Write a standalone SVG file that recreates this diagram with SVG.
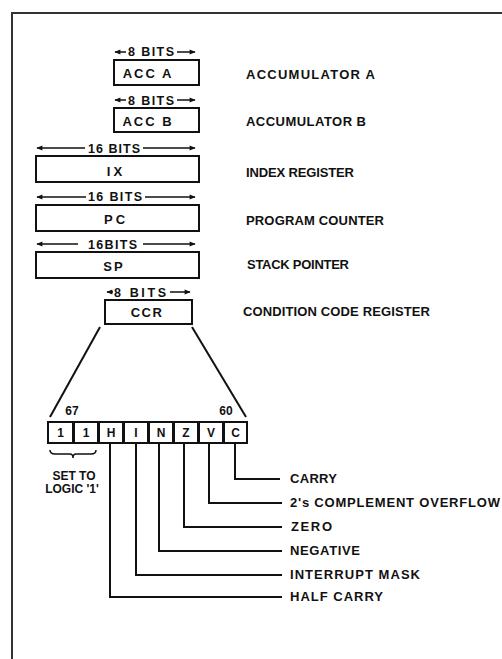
<svg xmlns="http://www.w3.org/2000/svg" width="502" height="659" viewBox="0 0 502 659">
<style>
text{font-family:"Liberation Sans",Arial,sans-serif;font-weight:bold;fill:#111;}
.lbl{font-size:13px;}
.reg{font-size:13px;text-anchor:middle;}
.bits{font-size:12.5px;}
.bit{font-size:12px;text-anchor:middle;}
.box{fill:#fff;stroke:#111;stroke-width:2;}
.ln{fill:none;stroke:#111;stroke-width:2;}
.ar{fill:none;stroke:#111;stroke-width:1.5;}
.frame{fill:none;stroke:#333;stroke-width:2;}
</style>
<defs>
<marker id="ah" viewBox="0 0 10 10" refX="9" refY="5" markerWidth="7" markerHeight="6" orient="auto-start-reverse" markerUnits="userSpaceOnUse">
<path d="M0,1 L10,5 L0,9 Z" fill="#111"/>
</marker>
</defs>
<rect width="502" height="659" fill="#fff"/>
<path class="frame" d="M12,659 L12,13 L502,13"/>

<g id="accA">
<line class="ar" x1="126" y1="52" x2="115" y2="52" marker-end="url(#ah)"/>
<text class="bits" x="128" y="56" textLength="46">8 BITS</text>
<line class="ar" x1="177" y1="52" x2="195" y2="52" marker-end="url(#ah)"/>
<rect class="box" x="114" y="60" width="85" height="25"/>
<text class="reg" x="148" y="78" letter-spacing="2">ACC A</text>
<text class="lbl" x="246" y="79" textLength="129">ACCUMULATOR  A</text>
</g>

<g id="accB">
<line class="ar" x1="126" y1="100" x2="115" y2="100" marker-end="url(#ah)"/>
<text class="bits" x="128" y="105" textLength="46">8 BITS</text>
<line class="ar" x1="177" y1="100" x2="195" y2="100" marker-end="url(#ah)"/>
<rect class="box" x="114" y="108" width="85" height="24"/>
<text class="reg" x="148" y="126" letter-spacing="2">ACC B</text>
<text class="lbl" x="246" y="126" textLength="120">ACCUMULATOR  B</text>
</g>

<g id="ix">
<line class="ar" x1="85" y1="148" x2="37" y2="148" marker-end="url(#ah)"/>
<text class="bits" x="88" y="153" textLength="52">16 BITS</text>
<line class="ar" x1="143" y1="148" x2="195" y2="148" marker-end="url(#ah)"/>
<rect class="box" x="36" y="156" width="163" height="26"/>
<text class="reg" x="116" y="176" letter-spacing="3">IX</text>
<text class="lbl" x="246" y="177" textLength="108">INDEX REGISTER</text>
</g>

<g id="pc">
<line class="ar" x1="86" y1="197" x2="37" y2="197" marker-end="url(#ah)"/>
<text class="bits" x="88" y="201" textLength="54">16 BITS</text>
<line class="ar" x1="145" y1="197" x2="195" y2="197" marker-end="url(#ah)"/>
<rect class="box" x="36" y="205" width="163" height="26"/>
<text class="reg" x="116" y="224" letter-spacing="3">PC</text>
<text class="lbl" x="246" y="225" textLength="138">PROGRAM COUNTER</text>
</g>

<g id="sp">
<line class="ar" x1="78" y1="244" x2="37" y2="244" marker-end="url(#ah)"/>
<text class="bits" x="88" y="249" textLength="49">16BITS</text>
<line class="ar" x1="143" y1="244" x2="195" y2="244" marker-end="url(#ah)"/>
<rect class="box" x="36" y="252" width="163" height="26"/>
<text class="reg" x="114" y="271" letter-spacing="2">SP</text>
<text class="lbl" x="247" y="269" textLength="102">STACK POINTER</text>
</g>

<g id="ccr">
<line class="ar" x1="113" y1="292" x2="107" y2="292" marker-end="url(#ah)"/>
<text class="bits" x="114" y="297" textLength="52">8 BITS</text>
<line class="ar" x1="170" y1="292" x2="190" y2="292" marker-end="url(#ah)"/>
<rect class="box" x="105" y="300" width="87" height="24"/>
<text class="reg" x="147" y="317" letter-spacing="1.5">CCR</text>
<text class="lbl" x="243" y="316" textLength="187">CONDITION CODE REGISTER</text>
</g>

<g id="ccr-bits">
<rect class="box" x="48" y="422" width="25" height="21"/>
<rect class="box" x="74" y="422" width="24" height="21"/>
<rect class="box" x="99" y="422" width="24" height="21"/>
<rect class="box" x="124" y="422" width="24" height="21"/>
<rect class="box" x="149" y="422" width="24" height="21"/>
<rect class="box" x="174" y="422" width="24" height="21"/>
<rect class="box" x="199" y="422" width="24" height="21"/>
<rect class="box" x="224" y="422" width="23" height="21"/>
<text class="bit" x="60.5" y="437">1</text>
<text class="bit" x="86" y="437">1</text>
<text class="bit" x="111" y="437">H</text>
<text class="bit" x="136" y="437">I</text>
<text class="bit" x="161" y="437">N</text>
<text class="bit" x="186" y="437">Z</text>
<text class="bit" x="211" y="437">V</text>
<text class="bit" x="235.5" y="437">C</text>
<text class="bit" x="72" y="415">67</text>
<text class="bit" x="226" y="415">60</text>
<path class="ar" d="M50,450 Q50,454 55,454 L70,454 Q73,454 73,458 Q73,454 76,454 L91,454 Q96,454 96,450"/>
<text class="bit" x="74" y="480" font-size="12.5">SET TO</text>
<text class="bit" x="72" y="493" font-size="12.5">LOGIC '1'</text>
</g>

<g id="labels">
<text class="lbl" x="290" y="483" textLength="47">CARRY</text>
<text class="lbl" x="290" y="507" textLength="210">2's COMPLEMENT OVERFLOW</text>
<text class="lbl" x="291" y="531" textLength="41">ZERO</text>
<text class="lbl" x="290" y="555" textLength="70">NEGATIVE</text>
<text class="lbl" x="290" y="579" textLength="130">INTERRUPT MASK</text>
<text class="lbl" x="290" y="601" textLength="93">HALF CARRY</text>
</g>

<g id="connectors">
<line class="ln" x1="100" y1="327" x2="50" y2="417"/>
<line class="ln" x1="192" y1="327" x2="246" y2="417"/>
<path class="ln" d="M235,443 V479 H280"/>
<path class="ln" d="M209,443 V503 H282"/>
<path class="ln" d="M184,443 V527 H282"/>
<path class="ln" d="M159,443 V551 H282"/>
<path class="ln" d="M136,443 V575 H282"/>
<path class="ln" d="M110,443 V597 H282"/>
</g>
</svg>
